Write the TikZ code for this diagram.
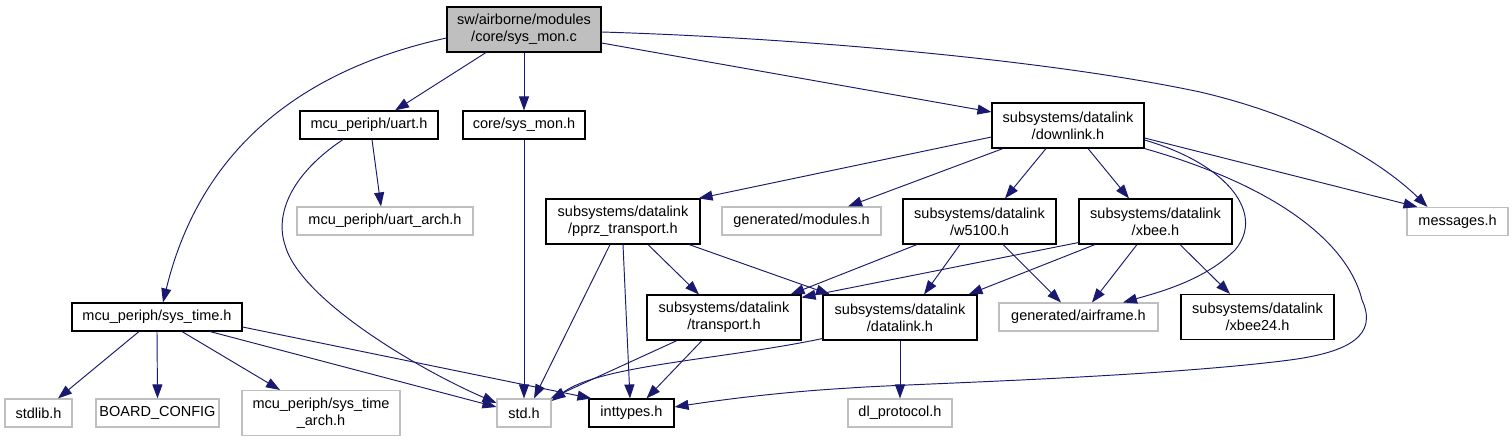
\documentclass[tikz,border=0pt]{standalone}
\usepackage{fontspec}
\setmainfont{Liberation Sans}
\usetikzlibrary{arrows.meta,calc}
\definecolor{edgeblue}{HTML}{191970}
\definecolor{boxgray}{HTML}{BFBFBF}
\begin{document}
\begin{tikzpicture}[x=1bp,y=-1bp,
  box/.style={draw=black,line width=1.1bp,inner sep=0pt,align=center,
    font=\fontsize{14.5bp}{17bp}\selectfont},
  gbox/.style={box,draw=boxgray},
  one/.style={minimum height=28bp},
  two/.style={minimum height=45bp},
  dep/.style={draw=edgeblue,line width=0.95bp,
    -{Triangle[length=14bp,width=10bp,fill=edgeblue]}}]
\fill[white] (0,0) rectangle (1512,443);
\useasboundingbox (0,0) rectangle (1512,443);
% row 1
\node[box,two,fill=boxgray,minimum width=154bp] (smc) at (524,29.5) {sw/airborne/modules\\/core/sys\_mon.c};
% row 2
\node[box,one,minimum width=138bp] (uart) at (369,125) {mcu\_periph/uart.h};
\node[box,one,minimum width=122bp] (smh) at (524,125) {core/sys\_mon.h};
\node[box,two,minimum width=152bp] (down) at (1068,125.5) {subsystems/datalink\\/downlink.h};
% row 3
\node[gbox,one,minimum width=176bp] (uarch) at (385,221) {mcu\_periph/uart\_arch.h};
\node[box,two,minimum width=154bp] (pprz) at (623,221.5) {subsystems/datalink\\/pprz\_transport.h};
\node[gbox,one,minimum width=159bp] (genmod) at (801.5,221) {generated/modules.h};
\node[box,two,minimum width=153bp] (w5100) at (979.5,221.5) {subsystems/datalink\\/w5100.h};
\node[box,two,minimum width=153bp] (xbee) at (1155.5,221.5) {subsystems/datalink\\/xbee.h};
\node[gbox,one,minimum width=101bp] (msg) at (1457.5,221.5) {messages.h};
% row 4
\node[box,one,minimum width=170bp] (systime) at (157,317) {mcu\_periph/sys\_time.h};
\node[box,two,minimum width=154bp] (transport) at (724,317.5) {subsystems/datalink\\/transport.h};
\node[box,two,minimum width=154bp] (datalink) at (900,317.5) {subsystems/datalink\\/datalink.h};
\node[gbox,one,minimum width=159bp] (airframe) at (1078.5,317) {generated/airframe.h};
\node[box,two,minimum width=153bp] (xbee24) at (1257.5,317) {subsystems/datalink\\/xbee24.h};
% row 5
\node[gbox,one,minimum width=67bp] (stdlib) at (38.5,413) {stdlib.h};
\node[gbox,one,minimum width=123bp] (board) at (157.5,413) {BOARD\_CONFIG};
\node[gbox,two,minimum width=158bp] (sta) at (321,413) {mcu\_periph/sys\_time\\\_arch.h};
\node[gbox,one,minimum width=54bp] (std) at (524,413) {std.h};
\node[box,one,minimum width=85bp] (intt) at (631.5,413) {inttypes.h};
\node[gbox,one,minimum width=104bp] (dlp) at (900,413) {dl\_protocol.h};
% edges from sys_mon.c
\draw[dep] ([xshift=-38bp]smc.south) -- ([xshift=26bp]uart.north);
\draw[dep] (smc.south) -- (smh.north);
\draw[dep] ([yshift=-13.5bp]smc.east) -- ([yshift=13.5bp]down.west);
\draw[dep] ([yshift=-2.5bp]smc.east) .. controls (800,38) and (1050,60) .. (1200,92)
  .. controls (1320,120) and (1390,170) .. ([xshift=-30bp]msg.north);
\draw[dep] ([yshift=-8.5bp]smc.west) .. controls (300,70) and (200,150) .. ([xshift=6bp]systime.north);
% uart.h
\draw[dep] ([xshift=3bp]uart.south) -- ([xshift=-4bp]uarch.north);
\draw[dep] ([xshift=-26bp]uart.south) .. controls (290,175) and (275,215) .. (285,245)
  .. controls (300,300) and (420,370) .. ([yshift=10bp]std.west);
% core/sys_mon.h
\draw[dep] (smh.south) -- (std.north);
% downlink.h
\draw[dep] ([yshift=-11.5bp]down.west) -- ([xshift=-2bp]pprz.north east);
\draw[dep] ([xshift=-65bp]down.south) -- ([xshift=46.5bp]genmod.north);
\draw[dep] ([xshift=-22bp]down.south) -- ([xshift=25.5bp]w5100.north);
\draw[dep] ([xshift=20bp]down.south) -- ([xshift=-26.5bp]xbee.north);
\draw[dep] ([yshift=-12.5bp]down.east) -- ([xshift=-40bp]msg.north);
\draw[dep] ([yshift=-14.5bp]down.east) .. controls (1230,165) and (1265,215) .. (1235,250)
  .. controls (1205,280) and (1160,292) .. ([xshift=44.5bp]airframe.north);
\draw[dep] (down.south east) .. controls (1290,190) and (1350,250) .. (1362,300)
  .. controls (1378,335) and (1350,352) .. (1290,360)
  .. controls (1150,378) and (900,384) .. (850,388)
  .. controls (780,392) and (720,400) .. ([yshift=6bp]intt.east);
% pprz_transport.h
\draw[dep] ([xshift=-13bp]pprz.south) -- ([xshift=10bp]std.north);
\draw[dep] (pprz.south) -- ([xshift=-1.5bp]intt.north);
\draw[dep] ([xshift=25bp]pprz.south) -- ([xshift=-25bp]transport.north);
\draw[dep] ([xshift=66bp]pprz.south) -- ([xshift=-70bp]datalink.north);
% w5100.h
\draw[dep] ([xshift=-62.5bp]w5100.south) -- ([xshift=-11bp]transport.north east);
\draw[dep] ([xshift=-19.5bp]w5100.south) -- ([xshift=24bp]datalink.north);
\draw[dep] ([xshift=23.5bp]w5100.south) -- ([xshift=-17.5bp]airframe.north);
% xbee.h
\draw[dep] ([yshift=2bp]xbee.south west) -- ([yshift=20bp]transport.east);
\draw[dep] ([xshift=-60.5bp]xbee.south) -- ([xshift=-9bp]datalink.north east);
\draw[dep] ([xshift=-18.5bp]xbee.south) -- ([xshift=13.5bp]airframe.north);
\draw[dep] ([xshift=24.5bp]xbee.south) -- ([xshift=-27.5bp]xbee24.north);
% sys_time.h
\draw[dep] ([xshift=-18bp]systime.south) -- ([xshift=19.5bp]stdlib.north);
\draw[dep] (systime.south) -- (board.north);
\draw[dep] ([xshift=25bp]systime.south) -- ([xshift=-41bp]sta.north);
\draw[dep] ([xshift=53bp]systime.south) -- ([yshift=6bp]std.west);
\draw[dep] ([yshift=-10bp]systime.east) -- ([xshift=3bp]intt.north west);
% transport.h
\draw[dep] ([xshift=-47bp]transport.south) -- ([xshift=-1bp]std.north east);
\draw[dep] ([xshift=-22bp]transport.south) -- ([xshift=15bp]intt.north);
% datalink.h
\draw[dep] ([yshift=2bp]datalink.south west) .. controls (720,360) and (600,365) .. ([yshift=12bp]std.east);
\draw[dep] (datalink.south) -- (dlp.north);
\end{tikzpicture}
\end{document}
